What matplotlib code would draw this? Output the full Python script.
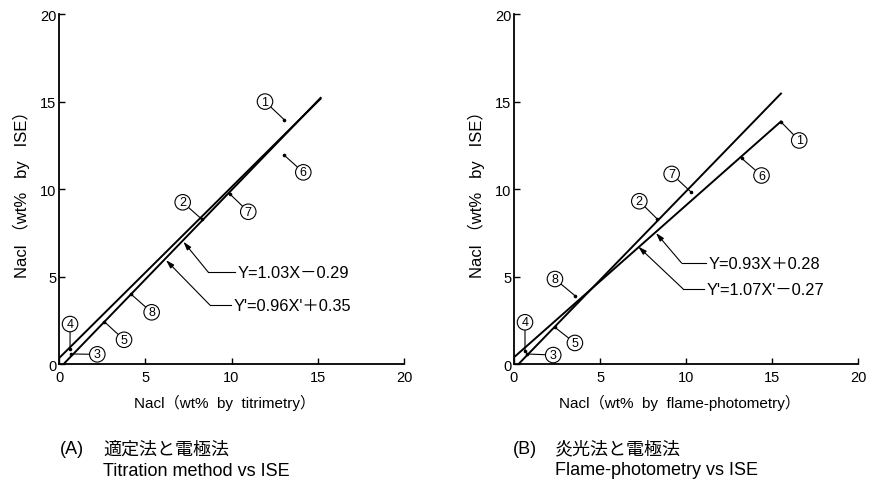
import matplotlib.pyplot as plt

plt.rcParams['font.family'] = ['Liberation Sans', 'Noto Sans CJK JP']

# ---- data ----
point_ids = ['1', '2', '3', '4', '5', '6', '7', '8']

# (A) titration vs ISE
a_fit1_x = [0.0, 15.2]     # Y'=0.96X'+0.35
a_fit1_y = [0.35, 15.2]
a_fit2_x = [0.25, 15.2]    # Y=1.03X-0.29
a_fit2_y = [0.0, 15.25]
a_pt_x = [13.06, 8.27, 0.70, 0.64, 2.63, 13.03, 9.91, 4.17]
a_pt_y = [13.96, 8.29, 0.59, 0.87, 2.43, 11.96, 9.72, 4.01]
a_eqs = ['Y=1.03X\uff0d0.29', "Y'=0.96X'\uff0b0.35"]

# (B) flame-photometry vs ISE
b_fit1_x = [0.0, 15.55]    # Y=0.93X+0.28
b_fit1_y = [0.4, 13.9]
b_fit2_x = [0.25, 15.55]   # Y'=1.07X'-0.27
b_fit2_y = [0.0, 15.5]
b_pt_x = [15.49, 8.32, 0.77, 0.64, 2.38, 13.22, 10.26, 3.54]
b_pt_y = [13.86, 8.30, 0.59, 0.78, 2.11, 11.77, 9.86, 3.92]
b_eqs = ['Y=0.93X\uff0b0.28', "Y'=1.07X'\uff0d0.27"]

ticks = [0, 5, 10, 15, 20]

# ---- label placement ----
a_circ = [(11.94, 15.0), (7.17, 9.25), (2.22, 0.57), (0.64, 2.3),
          (3.77, 1.4), (14.16, 10.96), (10.97, 8.71), (5.37, 2.97)]
b_circ = [(16.57, 12.78), (7.28, 9.31), (2.28, 0.53), (0.64, 2.4),
          (3.54, 1.22), (14.38, 10.78), (9.16, 10.87), (2.38, 4.87)]
# arrow tip, elbow, text start x
a_eq_pos = [((7.21, 7.0), (8.66, 5.25), 10.35),
            ((6.2, 5.95), (8.75, 3.38), 10.1)]
b_eq_pos = [((8.25, 7.5), (9.74, 5.78), 11.3),
            ((7.22, 6.72), (9.83, 4.3), 11.2)]


def panel(ax, fits, px, py, circ, eqs, eq_pos, xlabel):
    for fx, fy in fits:
        ax.plot(fx, fy, color='black', lw=1.4, solid_capstyle='butt')
    ax.plot(px, py, 'o', color='black', ms=1.6)
    for lab, x, y, c in zip(point_ids, px, py, circ):
        ax.annotate(lab, xy=(x, y), xytext=c, ha='center', va='center',
                    fontsize=9,
                    bbox=dict(boxstyle='circle,pad=0.14', fc='white',
                              ec='black', lw=0.8),
                    arrowprops=dict(arrowstyle='-', lw=0.8, color='black',
                                    shrinkA=0, shrinkB=0))
    for txt, (tip, elbow, tx) in zip(eqs, eq_pos):
        ax.plot([elbow[0], tx - 0.15], [elbow[1], elbow[1]], color='black', lw=0.8)
        ax.annotate('', xy=tip, xytext=elbow,
                    arrowprops=dict(arrowstyle='-|>,head_length=0.5,head_width=0.15',
                                    lw=0.8, color='black', shrinkA=0, shrinkB=0))
        ax.text(tx, elbow[1], txt, ha='left', va='center', fontsize=11.8)

    ax.set_xlim(0, 20)
    ax.set_ylim(0, 20)
    ax.set_xticks(ticks)
    ax.set_yticks(ticks)
    for s in ['top', 'right']:
        ax.spines[s].set_visible(False)
    for s in ['left', 'bottom']:
        ax.spines[s].set_linewidth(1.3)
    ax.tick_params(direction='in', length=4, width=1, labelsize=10.5)
    ax.tick_params(axis='y', pad=2)
    ax.tick_params(axis='x', pad=4)
    ax.set_xlabel(xlabel, fontsize=11, va='center')
    ax.set_ylabel('Nacl \uff08wt%   by   ISE\uff09', fontsize=12, va='center')
    ax.xaxis.set_label_coords(0.48, -0.108)
    ax.yaxis.set_label_coords(-0.11, 0.5)


fig = plt.figure(figsize=(8.78, 4.81), dpi=100)
ax1 = fig.add_axes([0.0672, 0.2405, 0.393, 0.7283])
ax2 = fig.add_axes([0.5854, 0.2405, 0.3921, 0.7283])

panel(ax1, [(a_fit1_x, a_fit1_y), (a_fit2_x, a_fit2_y)], a_pt_x, a_pt_y,
      a_circ, a_eqs, a_eq_pos, 'Nacl\uff08wt%  by  titrimetry\uff09')
panel(ax2, [(b_fit1_x, b_fit1_y), (b_fit2_x, b_fit2_y)], b_pt_x, b_pt_y,
      b_circ, b_eqs, b_eq_pos, 'Nacl\uff08wt%  by  flame-photometry\uff09')

# captions
fig.text(60 / 878, 1 - 450 / 481, '(A)', fontsize=13, va='center')
fig.text(103 / 878, 1 - 450 / 481, '適定法と電極法', fontsize=13, va='center')
fig.text(103 / 878, 1 - 471.5 / 481, 'Titration method vs ISE', fontsize=13, va='center')
fig.text(513 / 878, 1 - 449.5 / 481, '(B)', fontsize=13, va='center')
fig.text(555 / 878, 1 - 449.5 / 481, '炎光法と電極法', fontsize=13, va='center')
fig.text(555 / 878, 1 - 470.5 / 481, 'Flame-photometry vs ISE', fontsize=13, va='center')

fig.savefig('out.png', dpi=100)
